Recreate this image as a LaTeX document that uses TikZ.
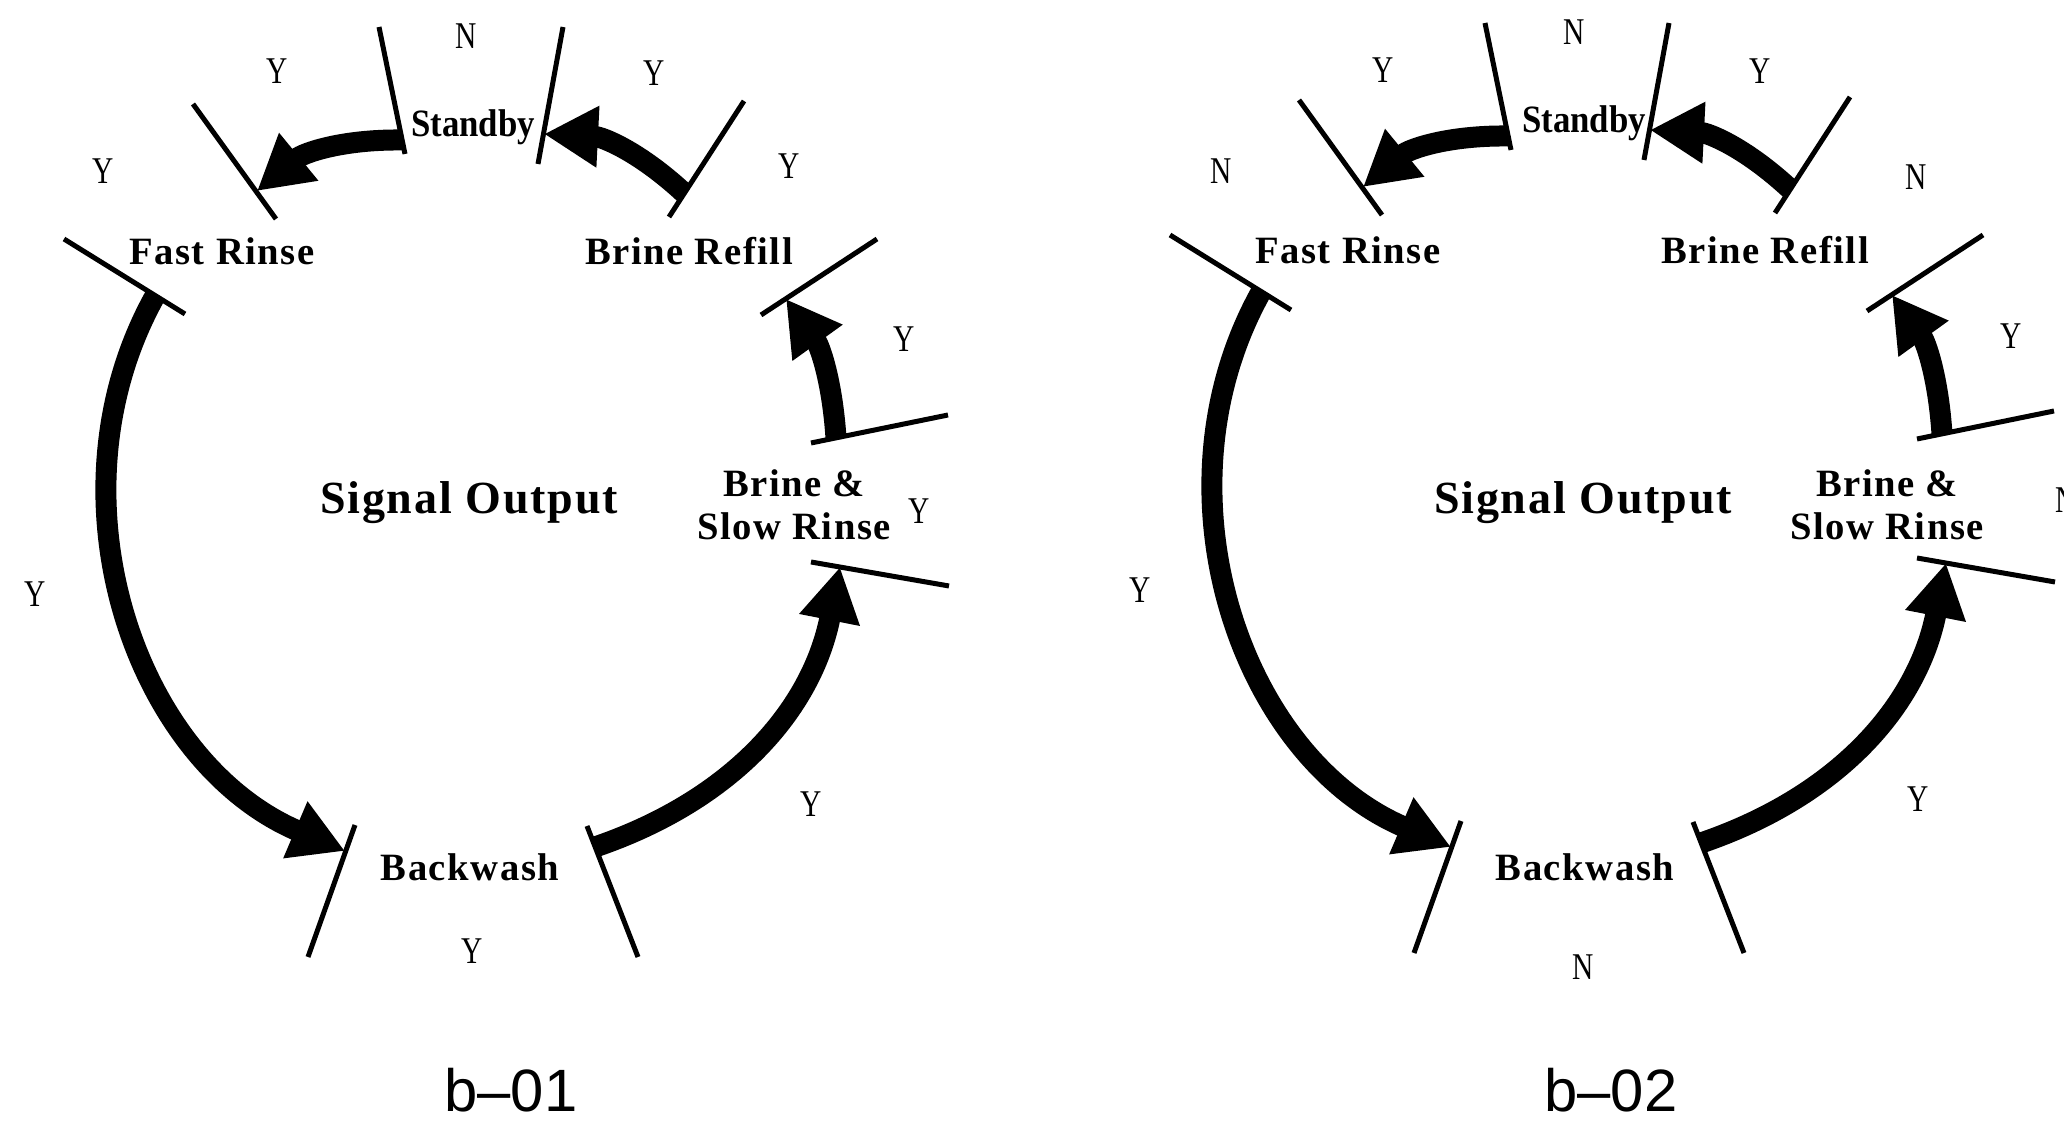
\documentclass[tikz,border=0pt]{standalone}
\usepackage{fontspec}
\setmainfont{Liberation Serif}
\newfontfamily\ynfont[FakeStretch=0.78]{Liberation Serif}
\newfontfamily\statefont[LetterSpace=4]{Liberation Serif}
\newfontfamily\stbyfont[FakeStretch=0.9]{Liberation Serif}
\newfontfamily\capfont{Liberation Sans}
\usetikzlibrary{arrows.meta}
\tikzset{
	tick/.style={line width=0.5mm},
	flow/.style={line width=2.1mm,-{Triangle[length=5.4mm,width=5.8mm]}},
	state/.style={font=\statefont\bfseries\fontsize{11}{12.2}\selectfont,inner sep=0pt,anchor=base,align=center},
	stby/.style={font=\stbyfont\bfseries\fontsize{11}{12.2}\selectfont,inner sep=0pt,anchor=base},
	signal/.style={font=\statefont\bfseries\fontsize{13.1}{14}\selectfont,inner sep=0pt,anchor=base},
	yn/.style={font=\ynfont\fontsize{10.75}{12}\selectfont,inner sep=0pt},
	caption/.style={font=\capfont\fontsize{17}{20}\selectfont,inner sep=0pt,anchor=base}
}
\begin{document}
\begin{tikzpicture}[x=0.1mm,y=-0.1mm]
	\useasboundingbox (0,0) rectangle (2064,1123);
	\clip (0,0) rectangle (2064,1123);
	% ticks and arrows, same in both cycles
	\foreach \sx/\sy in {0/0,1106/-4}{
	\begin{scope}[shift={(\sx,\sy)}]
	\coordinate(sbl1) at (379,27);	\coordinate(sbl2) at (405,154);
	\coordinate(sbr1) at (563,27);	\coordinate(sbr2) at (538,164);
	\coordinate(fru1) at (193,104);	\coordinate(fru2) at (276,219);
	\coordinate(frl1) at (64,239);	\coordinate(frl2) at (185,314);
	\coordinate(bru1) at (744,101);	\coordinate(bru2) at (669,217);
	\coordinate(brl1) at (877,239);	\coordinate(brl2) at (761,315);
	\coordinate(bsu1) at (811,443);	\coordinate(bsu2) at (948,415);
	\coordinate(bsl1) at (811,562);	\coordinate(bsl2) at (949,586);
	\coordinate(bwl1) at (355,825);	\coordinate(bwl2) at (308,957);
	\coordinate(bwr1) at (587,826);	\coordinate(bwr2) at (638,957);
	\draw[tick] (sbl1) -- (sbl2);
	\draw[tick] (sbr1) -- (sbr2);
	\draw[tick] (fru1) -- (fru2);
	\draw[tick] (frl1) -- (frl2);
	\draw[tick] (bru1) -- (bru2);
	\draw[tick] (brl1) -- (brl2);
	\draw[tick] (bsu1) -- (bsu2);
	\draw[tick] (bsl1) -- (bsl2);
	\draw[tick] (bwl1) -- (bwl2);
	\draw[tick] (bwr1) -- (bwr2);
	\coordinate(a1s) at (402,140);	\coordinate(a1e) at (257,191);
	\coordinate(a2s) at (155,296);	\coordinate(a2e) at (345,851);
	\coordinate(a3s) at (595,847);	\coordinate(a3e) at (840,567);
	\coordinate(a4s) at (836,438);	\coordinate(a4e) at (786,299);
	\coordinate(a5s) at (684,193);	\coordinate(a5e) at (544,134);
	\draw[flow] (a1s) to[bend right=20] (a1e);
	\draw[flow] (a2s) to[bend right=48] (a2e);
	\draw[flow] (a3s) to[bend right=30] (a3e);
	\draw[flow] (a4s) to[bend right=16] (a4e);
	\draw[flow] (a5s) to[bend right=20] (a5e);
	\end{scope}}
	% b-01
	\node[stby](stby1) at (473,137) {Standby};
	\node[state](fast1) at (222,265) {Fast Rinse};
	\node[state](refill1) at (689,265) {Brine Refill};
	\node[state,anchor=north](slow1) at (794,469) {Brine \&\\Slow Rinse};
	\node[signal](signal1) at (469,514) {Signal Output};
	\node[state](back1) at (470,881) {Backwash};
	\node[caption](cap1) at (511,1112) {b–01};
	\node[yn](l1) at (466,36) {N};
	\node[yn](l2) at (277,71) {Y};
	\node[yn](l3) at (654,73) {Y};
	\node[yn](l4) at (103,171) {Y};
	\node[yn](l5) at (789,166) {Y};
	\node[yn](l6) at (904,339) {Y};
	\node[yn](l7) at (919,511) {Y};
	\node[yn](l8) at (35,594) {Y};
	\node[yn](l9) at (811,804) {Y};
	\node[yn](l10) at (472,951) {Y};
	% b-02
	\node[stby](stby2) at (1584,133) {Standby};
	\node[state](fast2) at (1348,264) {Fast Rinse};
	\node[state](refill2) at (1765,264) {Brine Refill};
	\node[state,anchor=north](slow2) at (1887,469) {Brine \&\\Slow Rinse};
	\node[signal](signal2) at (1583,514) {Signal Output};
	\node[state](back2) at (1585,881) {Backwash};
	\node[caption](cap2) at (1611,1112) {b–02};
	\node[yn](r1) at (1574,32) {N};
	\node[yn](r2) at (1383,70) {Y};
	\node[yn](r3) at (1760,71) {Y};
	\node[yn](r4) at (1221,171) {N};
	\node[yn](r5) at (1916,177) {N};
	\node[yn](r6) at (2011,336) {Y};
	\node[yn](r7) at (2066,500) {N};
	\node[yn](r8) at (1140,590) {Y};
	\node[yn](r9) at (1918,799) {Y};
	\node[yn](r10) at (1583,967) {N};
\end{tikzpicture}
\end{document}
